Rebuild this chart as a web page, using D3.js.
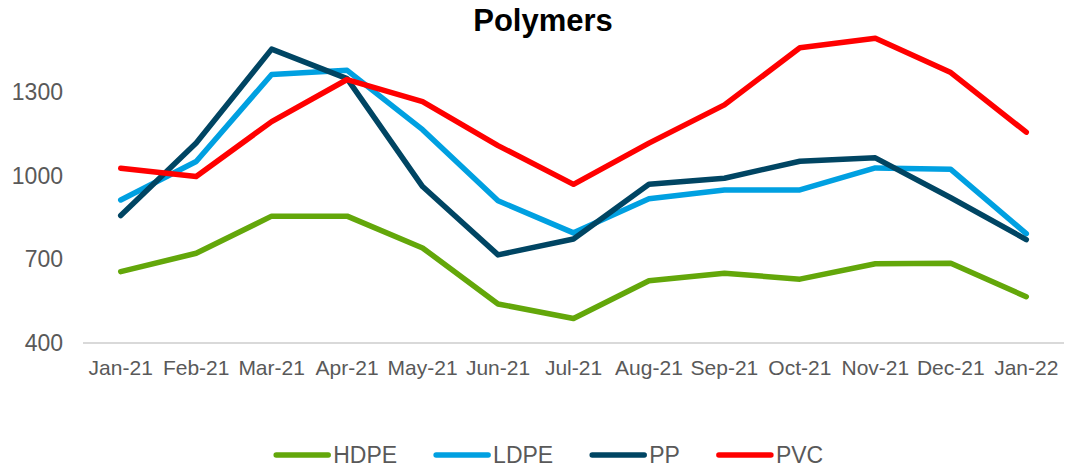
<!DOCTYPE html>
<html>
<head>
<meta charset="utf-8">
<script src="https://cdn.jsdelivr.net/npm/d3@7"></script>
<style>
  body { margin: 0; background: #fff; }
  svg { display: block; font-family: "Liberation Sans", Arial, sans-serif; }
</style>
</head>
<body>
<div id="chart"></div>
<script>
// chart data
var months = ["Jan-21", "Feb-21", "Mar-21", "Apr-21", "May-21", "Jun-21", "Jul-21",
              "Aug-21", "Sep-21", "Oct-21", "Nov-21", "Dec-21", "Jan-22"];
var hdpe = [656, 722, 855, 855, 741, 540, 488, 623, 650, 629, 684, 686, 566];
var ldpe = [913, 1051, 1363, 1378, 1165, 910, 795, 917, 949, 949, 1028, 1023, 792];
var pp   = [857, 1117, 1454, 1348, 961, 716, 773, 969, 991, 1052, 1064, 921, 771];
var pvc  = [1027, 997, 1194, 1345, 1266, 1108, 969, 1117, 1254, 1459, 1493, 1370, 1156];
var yTicks = [400, 700, 1000, 1300];

var seriesNames = ["HDPE", "LDPE", "PP", "PVC"];
var seriesColors = ["#63a70a", "#00a0e1", "#004563", "#ff0000"];
var seriesValues = [hdpe, ldpe, pp, pvc];

var chartWidth = 1066, chartHeight = 469;
// plot box (note: "top" is taken by window.top)
var plotLeft = 83, plotRight = 1064, plotTop = 36.3, plotBottom = 343;

var svg = d3.select("#chart").append("svg")
  .attr("width", chartWidth)
  .attr("height", chartHeight);

var x = d3.scalePoint()
  .domain(months)
  .range([plotLeft, plotRight])
  .padding(0.5);

var y = d3.scaleLinear()
  .domain([400, 1500])
  .range([plotBottom, plotTop]);

// title
svg.append("text")
  .attr("x", 543)
  .attr("y", 31)
  .attr("text-anchor", "middle")
  .style("font-size", "31px")
  .style("font-weight", "bold")
  .style("fill", "#000")
  .text("Polymers");

// baseline at the axis minimum
svg.append("line")
  .attr("x1", plotLeft).attr("x2", plotRight)
  .attr("y1", y(400)).attr("y2", y(400))
  .style("stroke", "#d9d9d9")
  .style("stroke-width", 2);

// y labels
svg.append("g").selectAll("text")
  .data(yTicks).enter()
  .append("text")
    .attr("x", 63)
    .attr("y", function(d) { return y(d); })
    .attr("dy", "0.35em")
    .attr("text-anchor", "end")
    .style("font-size", "23px")
    .style("fill", "#595959")
    .text(function(d) { return d; });

// x labels
svg.append("g").selectAll("text")
  .data(months).enter()
  .append("text")
    .attr("x", function(d) { return x(d); })
    .attr("y", 375)
    .attr("text-anchor", "middle")
    .style("font-size", "21px")
    .style("fill", "#595959")
    .text(function(d) { return d; });

// lines
var line = d3.line()
  .x(function(d, i) { return x(months[i]); })
  .y(function(d) { return y(d); });

svg.append("g").selectAll("path")
  .data(seriesValues).enter()
  .append("path")
    .attr("d", line)
    .style("fill", "none")
    .style("stroke", function(d, i) { return seriesColors[i]; })
    .style("stroke-width", 5.5)
    .style("stroke-linejoin", "round")
    .style("stroke-linecap", "round");

// legend
var legend = svg.append("g");
var items = legend.selectAll("g")
  .data(seriesNames).enter()
  .append("g");

items.append("line")
  .attr("x1", 0).attr("x2", 52)
  .attr("y1", 0).attr("y2", 0)
  .style("stroke", function(d, i) { return seriesColors[i]; })
  .style("stroke-width", 5.5)
  .style("stroke-linecap", "round");

items.append("text")
  .attr("x", 57)
  .attr("dy", "0.35em")
  .style("font-size", "23px")
  .style("fill", "#595959")
  .text(function(d) { return d; });

var pos = 0, starts = [];
items.each(function(d, i) {
  starts.push(pos);
  pos += 57 + this.querySelector("text").getComputedTextLength() + 39;
});
var total = pos - 39;
var legendLeft = 547 - total / 2 + 2.7;
items.attr("transform", function(d, i) {
  return "translate(" + (legendLeft + starts[i]) + ",455)";
});
</script>
</body>
</html>
